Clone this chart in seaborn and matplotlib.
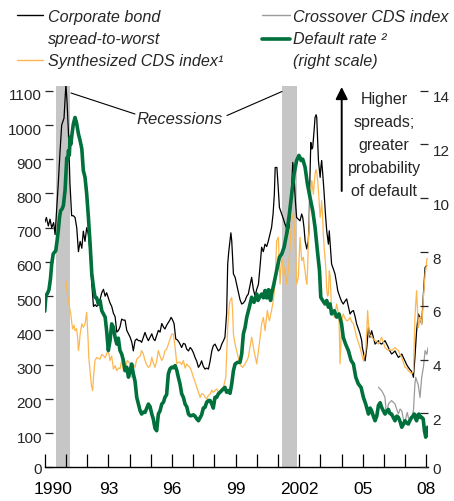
import seaborn as sns
import matplotlib.pyplot as plt
import matplotlib.transforms as mtransforms
from matplotlib.lines import Line2D

# 1. Data (decimal years)
corp_years = [1990.00, 1990.08, 1990.17, 1990.25, 1990.33, 1990.42, 1990.49, 1990.57, 1990.64, 1990.72,
              1990.80, 1990.91, 1991.00, 1991.06, 1991.12, 1991.19, 1991.27, 1991.35, 1991.43, 1991.51,
              1991.59, 1991.67, 1991.75, 1991.82, 1991.90, 1991.98, 1992.06, 1992.14, 1992.22, 1992.30,
              1992.38, 1992.45, 1992.53, 1992.61, 1992.69, 1992.77, 1992.85, 1992.92, 1993.00, 1993.08,
              1993.16, 1993.24, 1993.32, 1993.40, 1993.48, 1993.55, 1993.63, 1993.71, 1993.79, 1993.87,
              1993.95, 1994.03, 1994.11, 1994.18, 1994.26, 1994.34, 1994.42, 1994.50, 1994.57, 1994.65,
              1994.73, 1994.81, 1994.89, 1994.97, 1995.05, 1995.13, 1995.20, 1995.28, 1995.36, 1995.44,
              1995.52, 1995.60, 1995.67, 1995.75, 1995.83, 1995.90, 1995.96, 1996.02, 1996.10, 1996.18,
              1996.26, 1996.34, 1996.46, 1996.54, 1996.62, 1996.70, 1996.78, 1996.86, 1996.93, 1997.01,
              1997.09, 1997.17, 1997.25, 1997.33, 1997.40, 1997.48, 1997.56, 1997.64, 1997.72, 1997.80,
              1997.88, 1997.95, 1998.03, 1998.11, 1998.19, 1998.27, 1998.35, 1998.43, 1998.50, 1998.58,
              1998.63, 1998.68, 1998.74, 1998.78, 1998.82, 1998.90, 1998.98, 1999.05, 1999.13, 1999.21,
              1999.29, 1999.37, 1999.45, 1999.53, 1999.60, 1999.68, 1999.76, 1999.84, 1999.92, 2000.00,
              2000.08, 2000.16, 2000.23, 2000.31, 2000.39, 2000.47, 2000.55, 2000.62, 2000.70, 2000.77,
              2000.83, 2000.87, 2000.95, 2001.01, 2001.07, 2001.12, 2001.18, 2001.26, 2001.33, 2001.40,
              2001.44, 2001.52, 2001.57, 2001.63, 2001.70, 2001.77, 2001.82, 2001.88, 2001.96, 2002.04,
              2002.12, 2002.17, 2002.23, 2002.28, 2002.36, 2002.43, 2002.47, 2002.51, 2002.55, 2002.60,
              2002.64, 2002.70, 2002.75, 2002.80, 2002.83, 2002.87, 2002.91, 2002.95, 2002.99, 2003.03,
              2003.06, 2003.11, 2003.17, 2003.24, 2003.30, 2003.38, 2003.42, 2003.48, 2003.53, 2003.61,
              2003.69, 2003.76, 2003.82, 2003.93, 2004.00, 2004.08, 2004.16, 2004.24, 2004.32, 2004.40,
              2004.48, 2004.56, 2004.64, 2004.71, 2004.79, 2004.87, 2004.95, 2004.98, 2005.05, 2005.11,
              2005.19, 2005.27, 2005.34, 2005.42, 2005.50, 2005.58, 2005.66, 2005.74, 2005.82, 2005.89,
              2005.97, 2006.05, 2006.13, 2006.21, 2006.28, 2006.36, 2006.44, 2006.52, 2006.60, 2006.68,
              2006.76, 2006.84, 2006.92, 2006.99, 2007.07, 2007.15, 2007.23, 2007.28, 2007.34, 2007.39,
              2007.46, 2007.54, 2007.62, 2007.70, 2007.78, 2007.86, 2007.94, 2008.02]
corp_spread = [715, 730, 705, 725, 700, 715, 680, 760, 830, 920,
               1000, 1020, 1120, 1060, 975, 830, 735, 735, 730, 700,
               630, 660, 640, 690, 660, 700, 680, 630, 535, 470,
               475, 470, 475, 490, 510, 520, 500, 510, 495, 480,
               470, 450, 440, 395, 400, 410, 433, 430, 430, 400,
               390, 380, 365, 340, 370, 375, 370, 370, 365, 380,
               394, 380, 370, 380, 390, 375, 370, 385, 400, 395,
               420, 410, 404, 415, 423, 430, 438, 432, 420, 375,
               372, 365, 350, 362, 360, 345, 340, 350, 345, 335,
               321, 310, 292, 300, 311, 295, 287, 290, 287, 310,
               340, 355, 360, 350, 340, 345, 360, 370, 380, 450,
               594, 630, 662, 685, 662, 565, 555, 535, 511, 490,
               477, 480, 487, 500, 506, 530, 555, 520, 501, 520,
               535, 590, 643, 630, 652, 645, 662, 680, 701, 740,
               798, 876, 876, 820, 759, 750, 740, 725, 711, 700,
               681, 700, 735, 800, 891, 837, 780, 730, 725, 720,
               740, 730, 700, 662, 638, 660, 711, 850, 949, 930,
               935, 980, 1022, 1030, 1022, 960, 896, 870, 847, 880,
               896, 860, 808, 740, 691, 652, 691, 640, 594, 580,
               565, 540, 516, 496, 485, 477, 485, 492, 470, 448,
               455, 458, 440, 419, 405, 390, 370, 350, 330, 311,
               350, 409, 380, 399, 380, 360, 365, 370, 362, 360,
               365, 370, 360, 350, 340, 331, 335, 340, 330, 321,
               325, 331, 320, 311, 300, 292, 285, 282, 275, 263,
               321, 399, 448, 438, 419, 506, 584, 590]

cds_years = [1991.00, 1991.06, 1991.12, 1991.19, 1991.23, 1991.28, 1991.32, 1991.38, 1991.43, 1991.50,
             1991.55, 1991.59, 1991.63, 1991.67, 1991.75, 1991.82, 1991.90, 1991.98, 1992.04, 1992.08,
             1992.14, 1992.20, 1992.26, 1992.30, 1992.37, 1992.45, 1992.53, 1992.61, 1992.69, 1992.77,
             1992.85, 1992.92, 1993.00, 1993.08, 1993.16, 1993.24, 1993.32, 1993.40, 1993.47, 1993.55,
             1993.63, 1993.71, 1993.79, 1993.90, 1994.03, 1994.10, 1994.18, 1994.26, 1994.34, 1994.42,
             1994.50, 1994.57, 1994.65, 1994.73, 1994.81, 1994.89, 1994.97, 1995.05, 1995.12, 1995.20,
             1995.28, 1995.36, 1995.44, 1995.52, 1995.60, 1995.67, 1995.75, 1995.83, 1995.91, 1995.99,
             1996.07, 1996.15, 1996.23, 1996.30, 1996.38, 1996.46, 1996.54, 1996.62, 1996.70, 1996.78,
             1996.85, 1996.93, 1997.01, 1997.09, 1997.17, 1997.25, 1997.33, 1997.40, 1997.48, 1997.56,
             1997.64, 1997.72, 1997.80, 1997.88, 1997.95, 1998.03, 1998.11, 1998.19, 1998.27, 1998.35,
             1998.43, 1998.54, 1998.63, 1998.70, 1998.74, 1998.82, 1998.86, 1998.90, 1998.95, 1999.01,
             1999.09, 1999.15, 1999.21, 1999.28, 1999.34, 1999.40, 1999.45, 1999.52, 1999.60, 1999.68,
             1999.76, 1999.82, 1999.87, 1999.94, 2000.00, 2000.06, 2000.12, 2000.18, 2000.23, 2000.31,
             2000.35, 2000.39, 2000.45, 2000.50, 2000.55, 2000.60, 2000.65, 2000.70, 2000.78, 2000.86,
             2000.94, 2001.02, 2001.06, 2001.10, 2001.14, 2001.18, 2001.22, 2001.26, 2001.30, 2001.33,
             2001.37, 2001.41, 2001.45, 2001.49, 2001.53, 2001.57, 2001.61, 2001.65, 2001.69, 2001.73,
             2001.77, 2001.81, 2001.85, 2001.88, 2001.92, 2001.96, 2002.00, 2002.04, 2002.08, 2002.12,
             2002.16, 2002.20, 2002.24, 2002.28, 2002.32, 2002.36, 2002.40, 2002.43, 2002.47, 2002.51,
             2002.55, 2002.59, 2002.63, 2002.67, 2002.71, 2002.75, 2002.79, 2002.83, 2002.87, 2002.91,
             2002.95, 2002.99, 2003.03, 2003.06, 2003.10, 2003.14, 2003.18, 2003.22, 2003.26, 2003.30,
             2003.34, 2003.38, 2003.42, 2003.46, 2003.50, 2003.53, 2003.60, 2003.66, 2003.72, 2003.77,
             2003.82, 2003.88, 2003.93, 2003.97, 2004.00, 2004.04, 2004.08, 2004.16, 2004.24, 2004.32,
             2004.40, 2004.48, 2004.56, 2004.64, 2004.71, 2004.79, 2004.87, 2004.95, 2005.03, 2005.09,
             2005.14, 2005.19, 2005.23, 2005.27, 2005.30, 2005.36, 2005.42, 2005.50, 2005.58, 2005.66,
             2005.74, 2005.82, 2005.89, 2005.97, 2006.05, 2006.13, 2006.21, 2006.28, 2006.36, 2006.44,
             2006.52, 2006.60, 2006.68, 2006.76, 2006.84, 2006.92, 2006.99, 2007.07, 2007.15, 2007.23,
             2007.31, 2007.39, 2007.46, 2007.50, 2007.54, 2007.58, 2007.62, 2007.66, 2007.70, 2007.74,
             2007.78, 2007.82, 2007.86, 2007.90, 2007.94, 2007.98, 2008.02, 2008.06]
cds_index = [545, 510, 487, 460, 448, 420, 404, 415, 399, 405,
             380, 341, 360, 389, 419, 409, 419, 453, 380, 321,
             282, 240, 224, 263, 312, 321, 318, 316, 330, 326,
             320, 331, 341, 312, 325, 287, 297, 282, 290, 288,
             312, 282, 292, 312, 302, 263, 300, 292, 316, 321,
             325, 341, 331, 312, 300, 292, 297, 321, 305, 292,
             311, 341, 325, 312, 322, 341, 345, 360, 375, 389,
             389, 350, 302, 307, 307, 300, 312, 290, 302, 295,
             292, 280, 263, 250, 234, 220, 204, 215, 214, 205,
             200, 210, 214, 225, 219, 224, 229, 220, 224, 230,
             234, 263, 409, 470, 487, 496, 458, 389, 370, 350,
             331, 315, 302, 295, 292, 298, 302, 310, 321, 350,
             380, 360, 341, 320, 302, 330, 360, 390, 419, 438,
             420, 399, 430, 458, 440, 428, 445, 458, 487, 535,
             662, 672, 600, 535, 580, 613, 590, 555, 570, 584,
             560, 535, 555, 574, 610, 643, 690, 720, 735, 740,
             700, 662, 600, 535, 545, 555, 610, 672, 640, 604,
             610, 613, 590, 574, 550, 535, 580, 652, 700, 769,
             800, 837, 820, 798, 830, 857, 870, 862, 840, 808,
             770, 730, 750, 779, 740, 681, 640, 613, 580, 520,
             500, 506, 574, 560, 500, 458, 450, 438, 460, 477,
             460, 438, 302, 360, 419, 440, 448, 435, 428, 430,
             438, 425, 419, 400, 380, 365, 350, 330, 311, 330,
             341, 400, 458, 420, 389, 385, 380, 375, 370, 368,
             360, 370, 380, 365, 350, 345, 341, 345, 341, 345,
             350, 345, 341, 330, 321, 305, 292, 290, 282, 278,
             273, 280, 438, 480, 516, 460, 409, 420, 438, 430,
             419, 450, 496, 530, 565, 580, 608, 610]

xover_years = [2005.74, 2005.82, 2005.89, 2005.97, 2006.05, 2006.10, 2006.13, 2006.21, 2006.28, 2006.36,
               2006.44, 2006.52, 2006.60, 2006.68, 2006.76, 2006.84, 2006.92, 2006.99, 2007.05, 2007.10,
               2007.15, 2007.23, 2007.31, 2007.39, 2007.46, 2007.50, 2007.55, 2007.62, 2007.70, 2007.78,
               2007.86, 2007.94, 2008.02, 2008.08]
xover_index = [234, 228, 224, 215, 204, 165, 156, 185, 190, 195,
               190, 185, 170, 156, 170, 165, 140, 127, 150, 160,
               146, 135, 150, 165, 243, 263, 253, 240, 204, 263,
               292, 341, 330, 350]

default_years = [1990.00, 1990.06, 1990.12, 1990.20, 1990.27, 1990.33, 1990.40, 1990.47, 1990.52, 1990.58,
                 1990.64, 1990.70, 1990.75, 1990.82, 1990.88, 1990.96, 1991.04, 1991.08, 1991.12, 1991.16,
                 1991.20, 1991.23, 1991.29, 1991.35, 1991.43, 1991.50, 1991.59, 1991.67, 1991.75, 1991.82,
                 1991.90, 1991.98, 1992.06, 1992.14, 1992.22, 1992.30, 1992.37, 1992.45, 1992.53, 1992.61,
                 1992.69, 1992.77, 1992.85, 1992.92, 1993.00, 1993.08, 1993.16, 1993.24, 1993.32, 1993.40,
                 1993.47, 1993.55, 1993.63, 1993.71, 1993.79, 1993.87, 1993.95, 1994.03, 1994.10, 1994.18,
                 1994.26, 1994.34, 1994.42, 1994.50, 1994.57, 1994.65, 1994.73, 1994.81, 1994.89, 1994.97,
                 1995.05, 1995.12, 1995.20, 1995.28, 1995.36, 1995.44, 1995.52, 1995.60, 1995.67, 1995.75,
                 1995.83, 1995.91, 1995.99, 1996.07, 1996.15, 1996.23, 1996.30, 1996.38, 1996.46, 1996.54,
                 1996.62, 1996.70, 1996.78, 1996.85, 1996.93, 1997.01, 1997.09, 1997.17, 1997.25, 1997.33,
                 1997.40, 1997.48, 1997.56, 1997.64, 1997.72, 1997.80, 1997.88, 1997.95, 1998.03, 1998.11,
                 1998.19, 1998.27, 1998.35, 1998.42, 1998.50, 1998.58, 1998.66, 1998.74, 1998.82, 1998.90,
                 1998.98, 1999.09, 1999.21, 1999.29, 1999.37, 1999.45, 1999.53, 1999.65, 1999.76, 1999.87,
                 2000.00, 2000.06, 2000.12, 2000.23, 2000.31, 2000.39, 2000.45, 2000.50, 2000.55, 2000.60,
                 2000.65, 2000.70, 2000.81, 2000.94, 2001.07, 2001.18, 2001.29, 2001.41, 2001.54, 2001.65,
                 2001.76, 2001.88, 2001.99, 2002.05, 2002.09, 2002.17, 2002.28, 2002.39, 2002.51, 2002.64,
                 2002.75, 2002.86, 2002.96, 2003.02, 2003.11, 2003.22, 2003.30, 2003.38, 2003.46, 2003.53,
                 2003.66, 2003.77, 2003.88, 2004.00, 2004.08, 2004.19, 2004.32, 2004.45, 2004.56, 2004.67,
                 2004.79, 2004.92, 2005.03, 2005.14, 2005.27, 2005.35, 2005.42, 2005.50, 2005.58, 2005.66,
                 2005.74, 2005.82, 2005.89, 2005.97, 2006.05, 2006.13, 2006.21, 2006.28, 2006.36, 2006.44,
                 2006.52, 2006.60, 2006.68, 2006.76, 2006.84, 2006.92, 2006.99, 2007.07, 2007.15, 2007.23,
                 2007.31, 2007.39, 2007.43, 2007.50, 2007.54, 2007.60, 2007.65, 2007.72, 2007.78, 2007.85,
                 2007.91, 2007.97, 2008.03, 2008.06]
default_rate = [5.8, 6.4, 6.45, 6.6, 7.0, 7.56, 7.93, 8.0, 8.05, 8.4,
                8.8, 9.3, 9.54, 9.6, 9.73, 10.3, 11.5, 11.4, 11.77, 11.6,
                12.27, 12.0, 12.4, 12.76, 13.0, 12.8, 12.39, 12.14, 11.83, 11.03,
                10.78, 10.16, 9.29, 8.3, 7.19, 6.69, 6.32, 6.3, 6.07, 6.2,
                5.82, 5.7, 5.58, 5.08, 4.34, 4.71, 5.33, 5.2, 4.83, 4.58,
                4.8, 4.34, 4.21, 3.97, 3.59, 3.72, 3.35, 3.59, 3.84, 3.47,
                3.2, 2.6, 2.35, 2.1, 1.98, 2.05, 2.04, 2.2, 2.35, 2.25,
                1.98, 1.8, 1.45, 1.36, 1.98, 2.1, 2.35, 2.42, 2.6, 2.7,
                3.47, 3.66, 3.72, 3.7, 3.78, 3.6, 3.35, 3.1, 2.73, 2.6,
                2.35, 2.25, 1.98, 1.92, 1.92, 1.95, 1.9, 1.8, 1.73, 1.85,
                1.95, 2.2, 2.23, 2.42, 2.48, 2.48, 2.35, 2.2, 2.6, 2.6,
                2.73, 2.79, 2.85, 2.91, 2.97, 2.79, 2.85, 2.75, 3.1, 3.59,
                3.84, 3.9, 3.9, 4.21, 4.96, 5.2, 5.58, 5.95, 6.32, 6.13,
                6.44, 6.2, 6.3, 6.44, 6.3, 6.57, 6.3, 6.3, 6.6, 6.57,
                6.2, 6.44, 6.82, 7.31, 7.81, 7.93, 8.18, 8.67, 9.42, 10.16,
                10.9, 11.4, 11.59, 11.5, 11.4, 11.45, 11.15, 10.53, 10.04, 9.54,
                8.92, 8.05, 7.31, 6.32, 6.2, 6.07, 6.2, 5.95, 6.07, 5.7,
                5.82, 5.58, 5.7, 5.33, 4.83, 4.58, 4.34, 3.97, 3.84, 3.35,
                3.1, 2.97, 2.6, 2.35, 1.98, 2.2, 2.1, 1.9, 1.73, 1.9,
                2.3, 2.4, 2.23, 2.1, 1.98, 2.1, 2.15, 2.0, 1.98, 1.85,
                1.73, 1.9, 1.86, 1.7, 1.49, 1.6, 1.73, 1.65, 1.61, 1.75,
                1.86, 1.9, 1.98, 1.8, 1.73, 1.95, 1.98, 1.85, 1.86, 1.8,
                1.36, 1.12, 1.4, 1.49]

recessions = [(1990.53, 1991.20), (2001.20, 2001.90)]
year_ticks = list(range(1990, 2009))
year_labels = ["1990", "", "", "93", "", "", "96", "", "", "99", "", "",
               "2002", "", "", "05", "", "", "08"]

# 2. Style
sns.set_style("white")
plt.rcParams["font.family"] = ["Liberation Sans", "DejaVu Sans"]

BLACK = "#000000"
ORANGE = "#FDB751"
GREY = "#9B9B9B"
GREEN = "#00703C"

# 3. Figure (454x502 px)
fig = plt.figure(figsize=(4.54, 5.02), dpi=100)
ax = fig.add_axes([0.0985, 0.0671, 0.8453, 0.7596])
ax2 = ax.twinx()

for start, end in recessions:
    ax.axvspan(start, end, color="#C6C6C6", lw=0, zorder=0)

sns.lineplot(x=corp_years, y=corp_spread, ax=ax, color=BLACK, lw=0.9, estimator=None)
sns.lineplot(x=cds_years, y=cds_index, ax=ax, color=ORANGE, lw=0.9, estimator=None)
sns.lineplot(x=xover_years, y=xover_index, ax=ax, color=GREY, lw=0.9, estimator=None)
sns.lineplot(x=default_years, y=default_rate, ax=ax2, color=GREEN, lw=2.6, estimator=None)

# 4. Axes, ticks
ax.set_xlim(1990, 2008.1)
ax.set_ylim(0, 1114)
ax2.set_ylim(0, 14.17)
ax.set_xlabel("")
ax.set_ylabel("")
ax2.set_ylabel("")

ax.set_xticks(year_ticks)
ax.set_xticklabels(year_labels, fontsize=12.5)
ax.set_yticks(range(0, 1101, 100))
ax2.set_yticks(range(0, 15, 2))

ax.tick_params(axis="x", bottom=True, direction="in", length=9.4, width=0.9, pad=10, colors="black")
ax.tick_params(axis="y", left=True, direction="in", length=5.8, width=0.9, pad=2, labelsize=11)
ax2.tick_params(axis="y", right=True, direction="in", length=5.8, width=0.9, pad=3, labelsize=11)

for s in ["left", "right", "top"]:
    ax.spines[s].set_visible(False)
for s in ax2.spines.values():
    s.set_visible(False)
ax.spines["bottom"].set_linewidth(1.0)
ax.spines["bottom"].set_color("black")

# small label nudges as in the reference
ax.get_xticklabels()[0].set_transform(
    ax.get_xticklabels()[0].get_transform() + mtransforms.ScaledTranslation(0.08, 0, fig.dpi_scale_trans))
for lab in ax.get_yticklabels()[1:]:
    lab.set_transform(lab.get_transform() + mtransforms.ScaledTranslation(0, -0.03, fig.dpi_scale_trans))
for lab in ax2.get_yticklabels()[1:]:
    lab.set_transform(lab.get_transform() + mtransforms.ScaledTranslation(0, -0.05, fig.dpi_scale_trans))


def fx(px):
    return px / 454


def fy(py):
    return 1 - py / 502


# 5. Legend drawn by hand
fig.add_artist(Line2D([fx(17), fx(43)], [fy(16), fy(16)], color=BLACK, lw=1.0))
fig.add_artist(Line2D([fx(17), fx(43)], [fy(61), fy(61)], color=ORANGE, lw=1.0))
fig.add_artist(Line2D([fx(262), fx(290)], [fy(16), fy(16)], color=GREY, lw=1.0))
fig.add_artist(Line2D([fx(262), fx(290)], [fy(40), fy(40)], color=GREEN, lw=2.6))
leg_kw = dict(style="italic", fontsize=11.6, va="baseline", ha="left")
fig.text(fx(48), fy(22), "Corporate bond", **leg_kw)
fig.text(fx(48), fy(44), "spread-to-worst", **leg_kw)
fig.text(fx(48), fy(66), "Synthesized CDS index\u00b9", **leg_kw)
fig.text(fx(293), fy(22), "Crossover CDS index", **leg_kw)
fig.text(fx(293), fy(44), "Default rate \u00b2", **leg_kw)
fig.text(fx(293), fy(66), "(right scale)", **leg_kw)

# 6. Annotations
fig.text(fx(180), fy(124), "Recessions", style="italic", fontsize=12,
         ha="center", va="baseline")
fig.add_artist(Line2D([fx(71), fx(135)], [fy(94), fy(115)], color=BLACK, lw=0.8))
fig.add_artist(Line2D([fx(227), fx(282)], [fy(116.5), fy(92.5)], color=BLACK, lw=0.8))

note_lines = ["Higher", "spreads;", "greater", "probability", "of default"]
for i, line in enumerate(note_lines):
    fig.text(fx(384), fy(104 + 22.9 * i), line, fontsize=11.5, ha="center", va="baseline")

ax.annotate("", xy=(fx(341.7), fy(88)), xytext=(fx(341.7), fy(192)),
            xycoords="figure fraction", textcoords="figure fraction",
            arrowprops=dict(arrowstyle="-|>,head_length=0.4,head_width=0.2", color=BLACK,
                            lw=1.4, mutation_scale=18, shrinkA=0, shrinkB=0))

# 7. Save
plt.savefig("out.png", dpi=100)
plt.close()
